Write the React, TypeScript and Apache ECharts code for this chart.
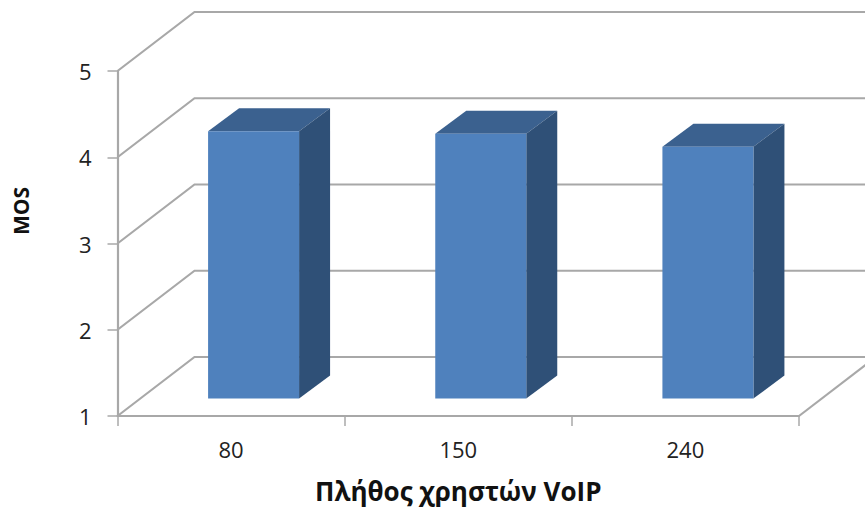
import React, { useEffect, useRef } from "react";
import * as echarts from "echarts";

const categories = ["80", "150", "240"];
const mosValues = [4.1, 4.07, 3.92];
const gridValues = [1, 2, 3, 4, 5];

const FONT = "'Open Sans', sans-serif";
const LINE = "#a8a8a8";
// Oblique offsets of the pseudo-3D projection, in pixels
const WALL_DX = 77;
const WALL_DY = -59;
const BAR_SHIFT_X = 22.5;
const BAR_SHIFT_Y = -17.5;
const BAR_DX = 31;
const BAR_DY = -23;
const BAR_WIDTH = 91;

export default function App() {
  const ref = useRef<HTMLDivElement>(null);

  useEffect(() => {
    const chart = echarts.init(ref.current!, undefined, { renderer: "svg" });
    chart.setOption({
      animation: false,
      backgroundColor: "#ffffff",
      grid: { left: 117.5, top: 71, width: 681.5, height: 345, containLabel: false, outerBoundsMode: "none" },
      xAxis: {
        type: "category",
        data: categories,
        boundaryGap: true,
        name: "Πλήθος χρηστών VoIP",
        nameLocation: "middle",
        nameGap: 62,
        nameTextStyle: { fontFamily: FONT, fontSize: 26, fontWeight: "bold", color: "#111111" },
        axisLine: { show: true, lineStyle: { color: LINE, width: 2.2 } },
        axisTick: { show: true, length: 10, interval: 0, alignWithLabel: false, lineStyle: { color: LINE, width: 1.5 } },
        axisLabel: { margin: 22, fontFamily: FONT, fontSize: 22, color: "#222222", interval: 0 },
        splitLine: { show: false },
      },
      yAxis: {
        type: "value",
        min: 1,
        max: 5,
        interval: 1,
        axisLine: { show: true, lineStyle: { color: LINE, width: 2.2 } },
        axisTick: { show: true, length: 10, lineStyle: { color: LINE, width: 1.5 } },
        axisLabel: { margin: 26, fontFamily: FONT, fontSize: 22, color: "#222222" },
        splitLine: { show: false },
      },
      graphic: [
        {
          type: "text",
          x: 21,
          y: 211,
          rotation: Math.PI / 2,
          style: {
            text: "MOS",
            fontFamily: FONT,
            fontSize: 21,
            fontWeight: "bold",
            fill: "#111111",
            align: "center",
            verticalAlign: "middle",
          },
        },
      ],
      series: [
        {
          // Receding wall and floor lines for each value tick
          type: "custom",
          silent: true,
          clip: false,
          z: 1,
          data: gridValues.map((v) => [0, v]),
          encode: { x: 0, y: 1 },
          renderItem: (params: any, api: any) => {
            const y = api.coord([0, api.value(1)])[1];
            const x0 = params.coordSys.x;
            const x1 = x0 + WALL_DX;
            const y1 = y + WALL_DY;
            return {
              type: "polyline",
              shape: { points: [[x0, y], [x1, y1], [api.getWidth(), y1]] },
              style: { stroke: LINE, lineWidth: 2.2, fill: null },
            };
          },
        },
        {
          // Right edge of the floor
          type: "custom",
          silent: true,
          clip: false,
          z: 1,
          data: [[0, 1]],
          encode: { x: 0, y: 1 },
          renderItem: (params: any, api: any) => {
            const y = api.coord([0, 1])[1];
            const x0 = params.coordSys.x + params.coordSys.width;
            return {
              type: "line",
              shape: { x1: x0, y1: y, x2: x0 + WALL_DX, y2: y + WALL_DY },
              style: { stroke: LINE, lineWidth: 2.2 },
            };
          },
        },
        {
          // Boxes: front, top and side faces
          type: "custom",
          silent: true,
          clip: false,
          z: 3,
          data: mosValues.map((v, i) => [i, v]),
          encode: { x: 0, y: 1 },
          renderItem: (_params: any, api: any) => {
            const top = api.coord([api.value(0), api.value(1)]);
            const bottom = api.coord([api.value(0), 1]);
            const l = top[0] + BAR_SHIFT_X - BAR_WIDTH / 2;
            const r = l + BAR_WIDTH;
            const t = top[1] + BAR_SHIFT_Y;
            const b = bottom[1] + BAR_SHIFT_Y;
            return {
              type: "group",
              children: [
                {
                  type: "polygon",
                  shape: { points: [[l, t], [r, t], [r + BAR_DX, t + BAR_DY], [l + BAR_DX, t + BAR_DY]] },
                  style: { fill: "#3b618f" },
                },
                {
                  type: "polygon",
                  shape: { points: [[r, t], [r + BAR_DX, t + BAR_DY], [r + BAR_DX, b + BAR_DY], [r, b]] },
                  style: { fill: "#2f5077" },
                },
                {
                  type: "rect",
                  shape: { x: l, y: t, width: BAR_WIDTH, height: b - t },
                  style: { fill: "#4f81bd" },
                },
              ],
            };
          },
        },
      ],
    });
    return () => chart.dispose();
  }, []);

  return <div ref={ref} style={{ position: "absolute", left: 0, top: 0, width: 865, height: 510 }} />;
}
